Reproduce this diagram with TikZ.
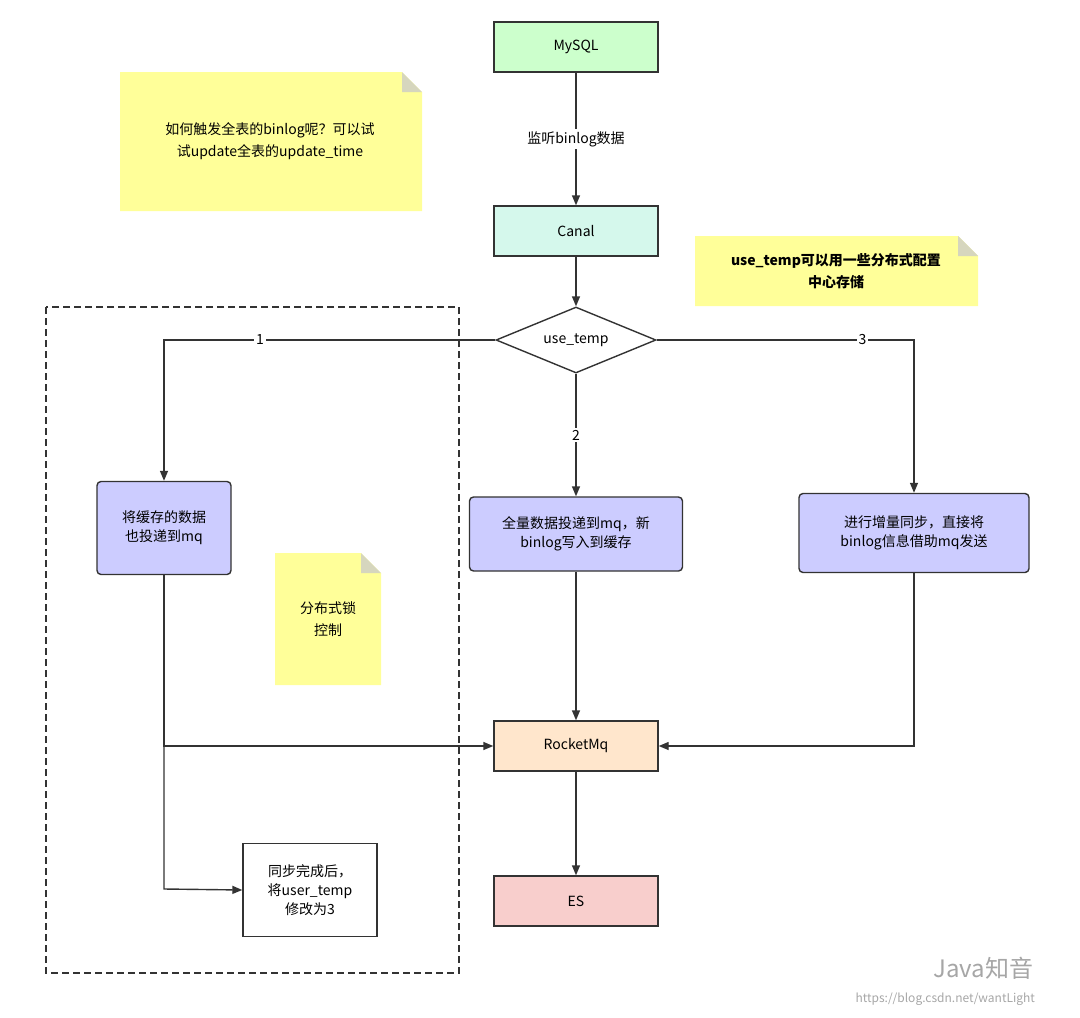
\documentclass[tikz,border=0pt]{standalone}
\usepackage{fontspec}
\setmainfont{Noto Sans CJK SC}
\usetikzlibrary{shapes.geometric,arrows.meta}
\definecolor{cg}{HTML}{CCFFCC}
\definecolor{cm}{HTML}{D5F8EC}
\definecolor{cl}{HTML}{CCCCFF}
\definecolor{co}{HTML}{FFE6CC}
\definecolor{cr}{HTML}{F8CECC}
\definecolor{cy}{HTML}{FFFF99}
\definecolor{ln}{HTML}{333333}
\begin{document}
\begin{tikzpicture}[x=1pt,y=-1pt,
 box/.style={draw=ln,line width=1.4pt,minimum width=164pt,minimum height=50pt,font=\fontsize{14}{19}\selectfont},
 lbox/.style={box,fill=cl,rounded corners=4pt,align=center},
 arr/.style={draw=ln,line width=1.4pt,-{Triangle[length=10pt,width=8pt]}},
 lab/.style={fill=white,inner sep=2pt,font=\fontsize{14}{17}\selectfont}]
\useasboundingbox (0,0) rectangle (1080,1018);
% notes
\foreach \a/\b/\c/\d in {120/72/422/211,695/236/978/306,275/553/381/685}{
 \fill[cy] (\a,\b) -- (\c-20,\b) -- (\c,\b+20) -- (\c,\d) -- (\a,\d) -- cycle;
 \fill[cy!60!black!40] (\c-20,\b) -- (\c-20,\b+20) -- (\c,\b+20) -- cycle;}
\node[align=center,font=\fontsize{14}{22}\selectfont] (n1) at (270,141) {如何触发全表的binlog呢？可以试\\试update全表的update\_time};
\node[align=center,font=\bfseries\fontsize{14}{22}\selectfont] (n2) at (836,271) {use\_temp可以用一些分布式配置\\中心存储};
\node[align=center,font=\fontsize{14}{22}\selectfont] (n3) at (328,619) {分布式锁\\控制};
% dashed
\draw[ln,line width=1.4pt,dash pattern=on 7pt off 4pt] (46,307) rectangle (459,973);
% nodes
\node[box,fill=cg] (mysql) at (576,47) {MySQL};
\node[box,fill=cm] (canal) at (576,231) {Canal};
\node[diamond,draw=ln,line width=1.4pt,fill=white,minimum width=160pt,minimum height=66pt,aspect=2.4,inner sep=0pt,font=\fontsize{14}{17}\selectfont] (dec) at (576,340) {use\_temp};
\node[lbox,minimum width=134pt,minimum height=93pt] (b1) at (164,528) {将缓存的数据\\也投递到mq};
\node[lbox,minimum width=213pt,minimum height=74pt] (b2) at (576,534) {全量数据投递到mq，新\\binlog写入到缓存};
\node[lbox,minimum width=230pt,minimum height=79pt] (b3) at (914,533) {进行增量同步，直接将\\binlog信息借助mq发送};
\node[box,fill=co] (rmq) at (576,746) {RocketMq};
\node[box,fill=cr] (es) at (576,901) {ES};
\node[draw=ln,line width=1.4pt,fill=white,minimum width=134pt,minimum height=93pt,align=center,font=\fontsize{14}{19}\selectfont] (sync) at (310,890) {同步完成后，\\将user\_temp\\修改为3};
% edges
\draw[arr] (mysql) -- node[lab] {监听binlog数据} (canal);
\draw[arr] (canal) -- (dec);
\draw[arr] (dec.west) -- node[lab,pos=0.71] {1} (164,340) -- (b1.north);
\draw[arr] (dec.south) -- node[lab,pos=0.5] {2} (b2.north);
\draw[arr] (dec.east) -- node[lab,pos=0.8] {3} (914,340) -- (b3.north);
\draw[arr] (b1.south) -- (164,746) -- (rmq.west);
\draw[arr] (164,746) -- (164,889) -- (sync.west);
\draw[arr] (b2.south) -- (rmq.north);
\draw[arr] (b3.south) -- (914,746) -- (rmq.east);
\draw[arr] (rmq) -- (es);
% watermark
\node[text=gray!70,font=\fontsize{24}{26}\selectfont,anchor=west] (wm) at (930,968) {Java知音};
\node[text=gray!70,font=\fontsize{12}{13}\selectfont,anchor=west] (wm2) at (852,999) {https://blog.csdn.net/wantLight};
\end{tikzpicture}
\end{document}
